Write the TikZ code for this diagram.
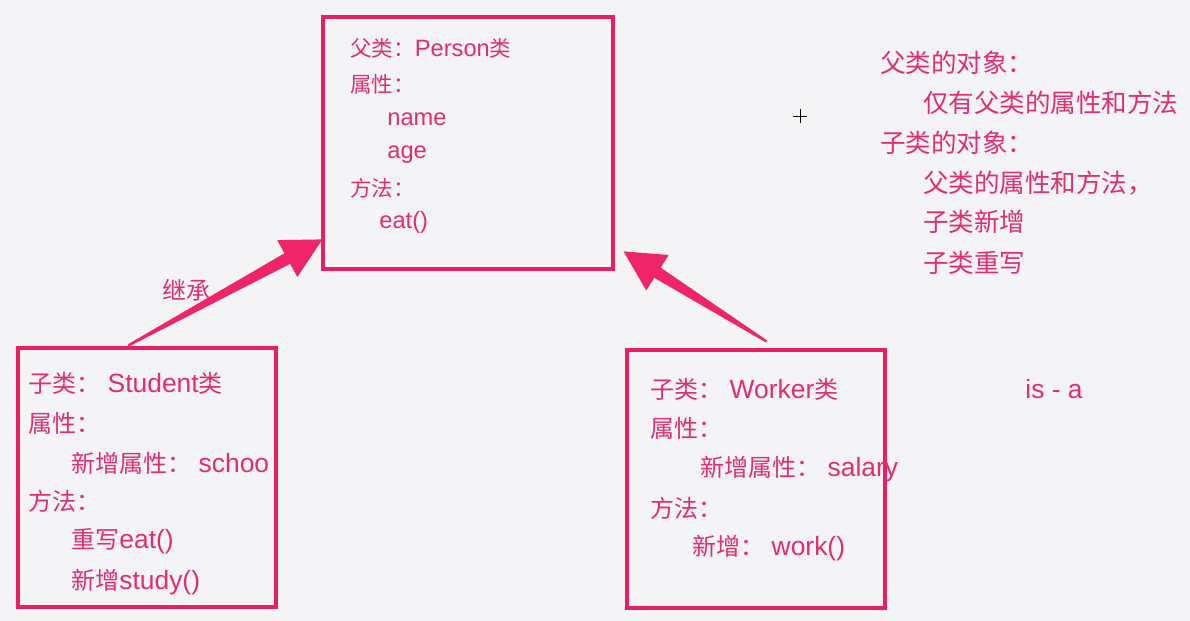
\documentclass[tikz,border=0pt]{standalone}
\usepackage{fontspec}
\newfontfamily\cjk{Noto Sans CJK SC}
\newfontfamily\lat[Scale=1.1]{Liberation Sans}
\usetikzlibrary{calc}

\definecolor{boxpink}{RGB}{232,32,96}
\definecolor{textpink}{RGB}{226,46,112}
\definecolor{arrowpink}{RGB}{240,36,104}
\definecolor{paper}{RGB}{244,244,246}

\tikzset{
  classbox/.style={draw=boxpink, line width=1.6pt, inner sep=0pt},
  txt/.style={anchor=west, inner sep=0pt, text=textpink,
    font=\cjk\fontsize{#1}{#1}\selectfont},
  txt/.default=12,
}

% tapered arrow from #1 (tail) to #2 (tip)
\newcommand{\fatarrow}[2]{%
  \fill[arrowpink]
    ($(#1)!0.6pt!90:(#2)$)
    -- ($(#2)!20pt!(#1)!3pt!90:(#2)$)
    -- ($(#2)!20pt!(#1)!10.5pt!90:(#2)$)
    -- (#2)
    -- ($(#2)!20pt!(#1)!10.5pt!-90:(#2)$)
    -- ($(#2)!20pt!(#1)!3pt!-90:(#2)$)
    -- ($(#1)!0.6pt!-90:(#2)$) -- cycle;}

\begin{document}
\begin{tikzpicture}[x=0.5pt,y=-0.5pt]
  \fill[paper] (0,0) rectangle (1190,621);
  \useasboundingbox (0,0) rectangle (1190,621);

  % the three classes
  \node[classbox, minimum width=145pt, minimum height=126pt] (person) at (468,143) {};
  \node[classbox, minimum width=129pt, minimum height=129.5pt] (student) at (147,477.5) {};
  \node[classbox, minimum width=129pt, minimum height=129pt] (worker) at (756,479) {};

  % parent class
  \node[txt=10.75] (p1) at (350,48) {父类：{\lat Person}类};
  \node[txt=10.75] (p2) at (350,84) {属性：};
  \node[txt=10.75] (p3) at (387,119) {\lat name};
  \node[txt=10.75] (p4) at (387,155) {\lat age};
  \node[txt=10.75] (p5) at (350,188) {方法：};
  \node[txt=10.75] (p6) at (379,222) {\lat eat()};

  % Student
  \node[txt] (s1) at (28,383) {子类：{\lat\ Student}类};
  \node[txt] (s2) at (28,423) {属性：};
  \node[txt] (s3) at (71,463) {新增属性：{\lat\ schoo}};
  \node[txt] (s4) at (28,501) {方法：};
  \node[txt] (s5) at (71,541) {重写{\lat eat()}};
  \node[txt] (s6) at (71,582) {新增{\lat study()}};

  % Worker
  \node[txt] (w1) at (650,389) {子类：{\lat\ Worker}类};
  \node[txt] (w2) at (650,428) {属性：};
  \node[txt] (w3) at (700,469) {新增属性：{\lat\ salary}};
  \node[txt] (w4) at (650,508) {方法：};
  \node[txt] (w5) at (692,548) {新增：{\lat\ work()}};

  % notes on the right
  \node[txt=12.75] (n1) at (880,63) {父类的对象：};
  \node[txt=12.75] (n2) at (923,103) {仅有父类的属性和方法};
  \node[txt=12.75] (n3) at (880,143) {子类的对象：};
  \node[txt=12.75] (n4) at (923,183) {父类的属性和方法，};
  \node[txt=12.75] (n5) at (923,222) {子类新增};
  \node[txt=12.75] (n6) at (923,263) {子类重写};
  \node[txt] (isa) at (1025,389) {\lat is - a};
  \node[txt] (jicheng) at (162,290) {继承};

  % cursor mark
  \draw[black, line width=0.5pt] (800,109) -- (800,123) (793,116) -- (807,116);

  % inheritance arrows
  \coordinate (stail) at ($(student.north west)+(112,-1)$);
  \coordinate (stip) at ($(person.north west)+(1,224)$);
  \coordinate (wtail) at ($(worker.north west)+(141,-7)$);
  \coordinate (wtip) at ($(person.north east)+(9,236)$);
  \fatarrow{stail}{stip}
  \fatarrow{wtail}{wtip}
\end{tikzpicture}
\end{document}
